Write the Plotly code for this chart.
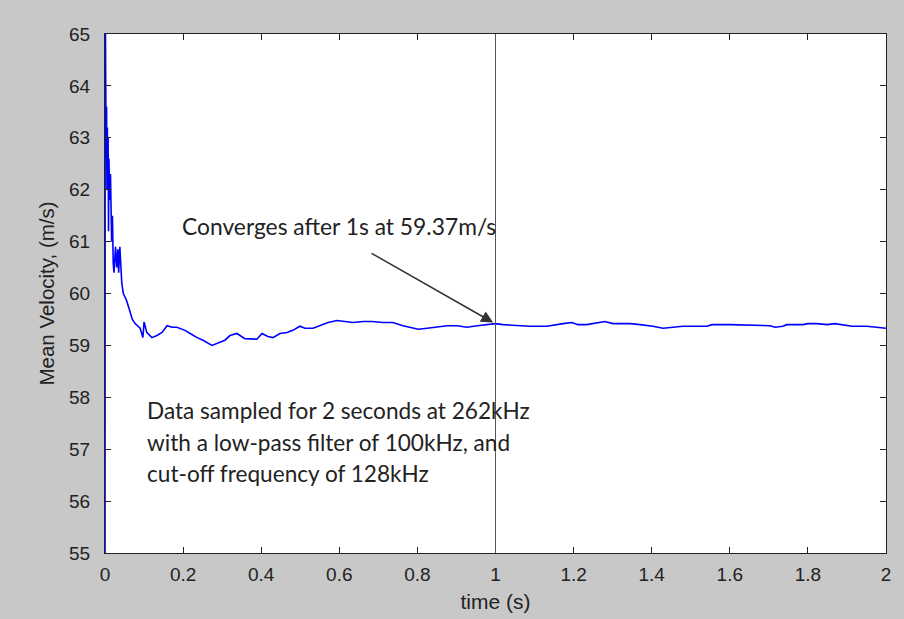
import plotly.graph_objects as go

# time (s)
t = [0, 0.0004, 0.0008, 0.0015, 0.002, 0.003, 0.004, 0.005, 0.006, 0.007, 0.008, 0.009,
     0.010, 0.012, 0.014, 0.017, 0.019, 0.021, 0.023, 0.027, 0.030, 0.033, 0.035, 0.038,
     0.043, 0.047, 0.055, 0.062, 0.070, 0.077, 0.090, 0.097, 0.100, 0.107, 0.120, 0.133,
     0.146, 0.159, 0.172, 0.184, 0.192, 0.205, 0.218, 0.236, 0.251, 0.274, 0.294, 0.307,
     0.320, 0.338, 0.358, 0.371, 0.389, 0.402, 0.417, 0.430, 0.448, 0.466, 0.481, 0.499,
     0.512, 0.533, 0.551, 0.571, 0.594, 0.620, 0.635, 0.661, 0.684, 0.712, 0.737, 0.763,
     0.786, 0.802, 0.825, 0.851, 0.876, 0.902, 0.927, 0.953, 0.978, 1.000, 1.019, 1.055,
     1.088, 1.132, 1.152, 1.173, 1.196, 1.211, 1.234, 1.260, 1.280, 1.301, 1.345, 1.370,
     1.403, 1.429, 1.454, 1.480, 1.511, 1.542, 1.554, 1.600, 1.703, 1.716, 1.736, 1.746,
     1.787, 1.800, 1.823, 1.849, 1.869, 1.913, 1.951, 1.985, 2.000]
# mean velocity (m/s)
v = [50.0, 66.0, 63.8, 62.3, 63.9, 62.6, 63.6, 62.0, 63.2, 62.4, 63.0, 61.2,
     62.6, 61.8, 62.3, 61.0, 61.5, 60.6, 60.4, 60.9, 60.5, 60.85, 60.4, 60.9,
     60.2, 60.0, 59.87, 59.7, 59.5, 59.42, 59.33, 59.15, 59.45, 59.25, 59.15, 59.19,
     59.25, 59.38, 59.35, 59.35, 59.33, 59.29, 59.23, 59.15, 59.10, 59.0, 59.06, 59.10,
     59.19, 59.23, 59.13, 59.12, 59.12, 59.23, 59.17, 59.15, 59.23, 59.25, 59.29, 59.37,
     59.33, 59.33, 59.38, 59.44, 59.48, 59.46, 59.44, 59.46, 59.46, 59.44, 59.44, 59.38,
     59.33, 59.31, 59.33, 59.35, 59.38, 59.38, 59.35, 59.38, 59.40, 59.42, 59.40, 59.38,
     59.37, 59.37, 59.40, 59.42, 59.44, 59.40, 59.40, 59.44, 59.46, 59.42, 59.42, 59.40,
     59.37, 59.33, 59.35, 59.37, 59.37, 59.37, 59.40, 59.40, 59.38, 59.35, 59.37, 59.40,
     59.40, 59.42, 59.42, 59.40, 59.42, 59.37, 59.37, 59.35, 59.33]

x_ticks = [0, 0.2, 0.4, 0.6, 0.8, 1, 1.2, 1.4, 1.6, 1.8, 2]
x_tick_labels = ["0", "0.2", "0.4", "0.6", "0.8", "1", "1.2", "1.4", "1.6", "1.8", "2"]
y_ticks = list(range(55, 66))

converge_t = 1.0
converge_text = "Converges after 1s at 59.37m/s"
info_lines = ["Data sampled for 2 seconds at 262kHz",
              "with a low-pass filter of 100kHz, and",
              "cut-off frequency of 128kHz"]

fig = go.Figure()
fig.add_trace(go.Scatter(x=t, y=v, mode="lines",
                         line=dict(color="#0000ff", width=1.6), showlegend=False))

fig.add_shape(type="line", xref="x", yref="paper", x0=converge_t, x1=converge_t, y0=0, y1=1,
              line=dict(color="#555555", width=1))

fig.add_annotation(x=0.994, y=59.44, ax=0.679, ay=60.79, xref="x", yref="y",
                   axref="x", ayref="y", text="", showarrow=True, arrowhead=2,
                   arrowsize=1.6, arrowwidth=1.5, arrowcolor="#333333")
fig.add_annotation(x=0.599, y=61.30, xref="x", yref="y", text=converge_text,
                   showarrow=False, font=dict(family="Lato", size=22.8, color="#222222"))
for line, yy in zip(info_lines, [57.75, 57.13, 56.54]):
    fig.add_annotation(x=0.102, y=yy, xref="x", yref="y", text=line, showarrow=False,
                       xanchor="left", font=dict(family="Lato", size=22.6, color="#222222"))

axis_font = dict(family="Liberation Sans, Arial", size=19, color="#222222")
fig.update_layout(
    width=904, height=619,
    margin=dict(l=105, r=18, t=34, b=66, autoexpand=False),
    paper_bgcolor="#c8c8c8", plot_bgcolor="white",
    font=axis_font,
    xaxis=dict(range=[0, 2], tickvals=x_ticks, ticktext=x_tick_labels,
               ticks="inside", ticklen=6, tickcolor="#222222", showgrid=False,
               zeroline=False, showline=True, linecolor="#222222", linewidth=1,
               mirror="ticks",
               title=dict(text="time (s)", standoff=10,
                          font=dict(family="Liberation Sans, Arial", size=21, color="#222222")),
               ticklabelstandoff=4, tickfont=axis_font),
    yaxis=dict(range=[55, 65], tickvals=y_ticks,
               ticks="inside", ticklen=6, tickcolor="#222222", showgrid=False,
               zeroline=False, showline=True, linecolor="#222222", linewidth=1,
               mirror="ticks",
               title=dict(text="Mean Velocity, (m/s)", standoff=8,
                          font=dict(family="Liberation Sans, Arial", size=20.5, color="#222222")),
               ticklabelstandoff=10, tickfont=axis_font),
)

fig.write_html("out.html")
